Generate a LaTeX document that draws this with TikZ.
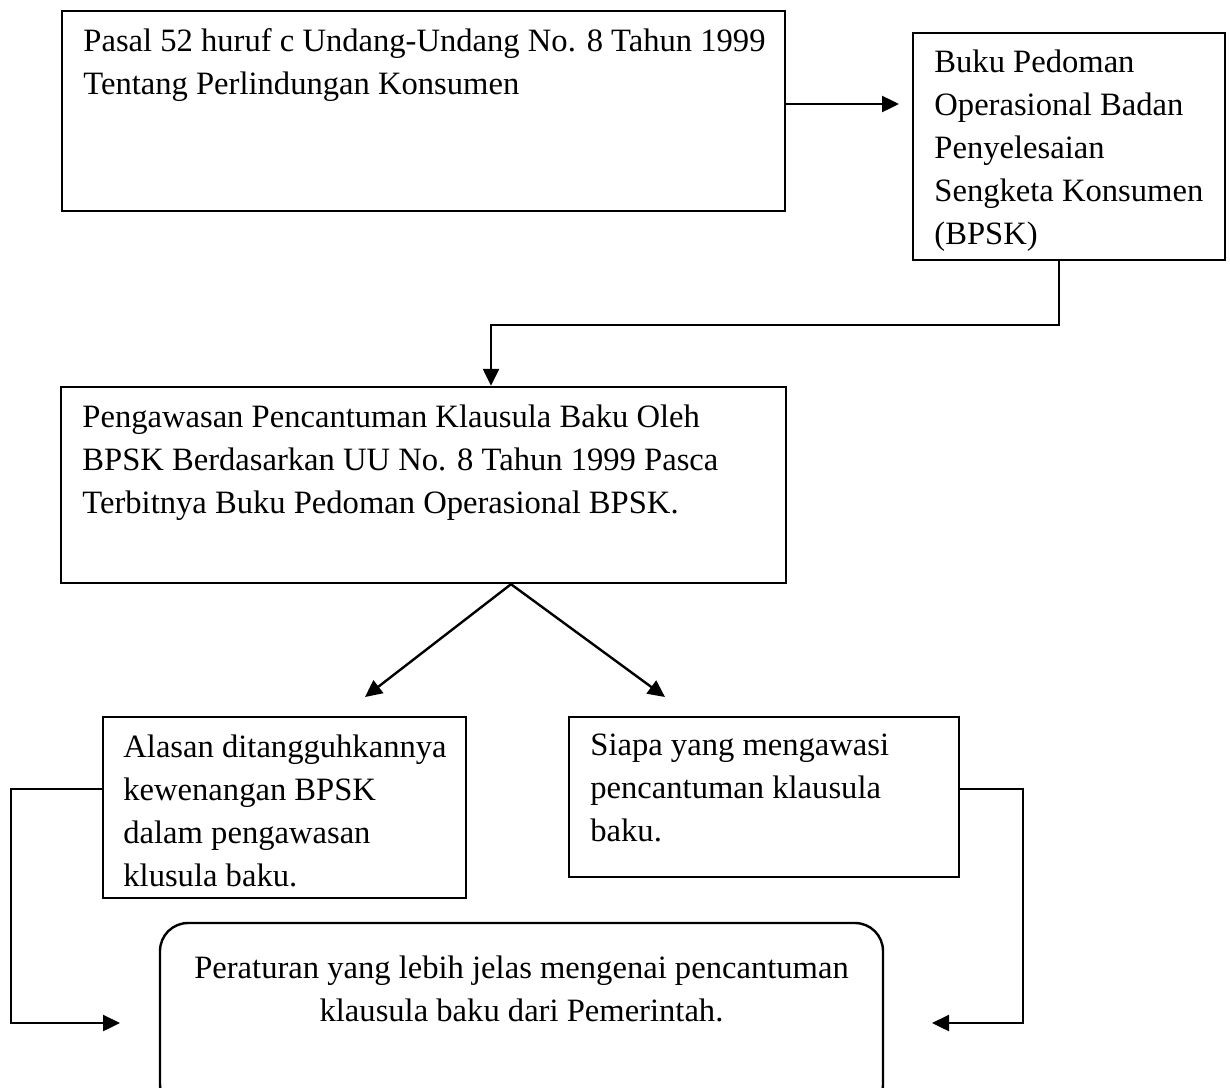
\documentclass[tikz,border=0pt]{standalone}
\usepackage{fontspec}
\setmainfont{Liberation Serif}
\usetikzlibrary{arrows.meta,fit}
\tikzset{
  box/.style={draw=black, line width=1.2pt, inner sep=0pt, fill=none},
  rbox/.style={box, rounded corners=14pt},
  txt/.style={anchor=base west, inner sep=0pt, font=\fontsize{16.3}{21.5}\selectfont},
  ctxt/.style={anchor=base, inner sep=0pt, font=\fontsize{16.3}{21.5}\selectfont},
  conn/.style={line width=1.2pt, -{Triangle[length=8.5pt,width=8pt]}}
}
\begin{document}
\begin{tikzpicture}[x=0.5pt,y=-0.5pt]
\useasboundingbox (0,0) rectangle (1230,1087);
\fill[white] (0,0) rectangle (1230,1087);
\clip (0,0) rectangle (1230,1087);
% box corners
\coordinate (b1nw) at (62,11);   \coordinate (b1se) at (785,211);
\coordinate (b2nw) at (913,33);  \coordinate (b2se) at (1225,260);
\coordinate (b3nw) at (61,387);  \coordinate (b3se) at (786,583);
\coordinate (b4nw) at (103,717); \coordinate (b4se) at (466,898);
\coordinate (b5nw) at (569,717); \coordinate (b5se) at (959,877);
\coordinate (b6nw) at (160,923); \coordinate (b6se) at (883,1112);
\node[box, fit=(b1nw)(b1se)] (b1) {};
\node[box, fit=(b2nw)(b2se)] (b2) {};
\node[box, fit=(b3nw)(b3se)] (b3) {};
\node[box, fit=(b4nw)(b4se)] (b4) {};
\node[box, fit=(b5nw)(b5se)] (b5) {};
\node[rbox, fit=(b6nw)(b6se)] (b6) {};
% texts
\node[txt] (t1) at (83,51) {\parbox[t]{700\dimexpr0.5pt}{Pasal 52 huruf c Undang-Undang No. 8 Tahun 1999\\Tentang Perlindungan Konsumen}};
\node[txt] (t2) at (934,72) {\parbox[t]{290\dimexpr0.5pt}{Buku Pedoman\\Operasional Badan\\Penyelesaian\\Sengketa Konsumen\\(BPSK)}};
\node[txt] (t3) at (82,427) {\parbox[t]{700\dimexpr0.5pt}{Pengawasan Pencantuman Klausula Baku Oleh\\BPSK Berdasarkan UU No. 8 Tahun 1999 Pasca\\Terbitnya Buku Pedoman Operasional BPSK.}};
\node[txt] (t4) at (123,757) {\parbox[t]{340\dimexpr0.5pt}{Alasan ditangguhkannya\\kewenangan BPSK\\dalam pengawasan\\klusula baku.}};
\node[txt] (t5) at (590,755) {\parbox[t]{360\dimexpr0.5pt}{Siapa yang mengawasi\\pencantuman klausula\\baku.}};
\node[ctxt] (t6) at (521.5,978) {\parbox[t]{700\dimexpr0.5pt}{\centering Peraturan yang lebih jelas mengenai pencantuman\\klausula baku dari Pemerintah.}};
% connector coordinates
\coordinate (a1) at (899,104);
\coordinate (c2) at (1059,325);
\coordinate (c3) at (491,325);
\coordinate (apex) at (511,583);
\coordinate (lt) at (365,697);
\coordinate (rt) at (665,697);
\coordinate (l1) at (11,789);
\coordinate (l2) at (120,1023);
\coordinate (r1) at (1023,789);
\coordinate (r2) at (932,1023);
% connectors
\draw[conn] (b1.east |- a1) -- (a1);
\draw[conn] (b2.south -| c2) -- (c2) -- (c3) -- (b3.north -| c3);
\draw[conn] (b3.south -| apex) -- (lt);
\draw[conn] (b3.south -| apex) -- (rt);
\draw[conn] (b4.west |- l1) -- (l1) |- (l2);
\draw[conn] (b5.east |- r1) -- (r1) |- (r2);
\end{tikzpicture}
\end{document}
